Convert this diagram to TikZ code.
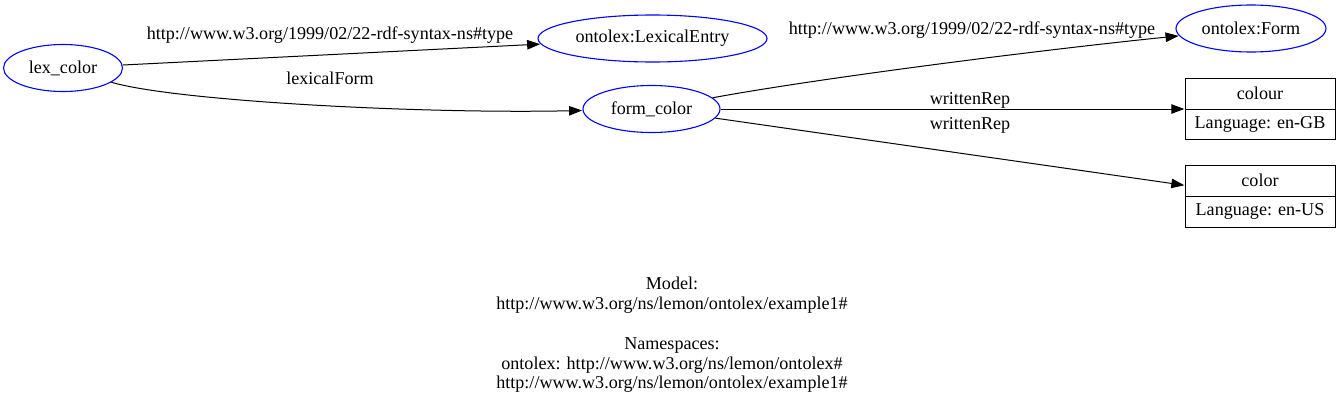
\documentclass[tikz,border=0pt]{standalone}
\usepackage{fontspec}
\setmainfont{Liberation Serif}
\usetikzlibrary{shapes.geometric,arrows.meta}
\tikzset{
  res/.style={ellipse, draw=blue, line width=1.1pt, inner sep=0pt, text=black},
  recpart/.style={rectangle, draw=black, line width=1pt, inner sep=0pt, minimum width=150pt},
  edge/.style={draw=black, line width=1pt, -{Triangle[length=13pt,width=9.5pt]}, shorten >=0.5pt},
  lbl/.style={inner sep=0pt, text=black},
}
\begin{document}
\begin{tikzpicture}[x=1pt,y=-1pt,font=\fontsize{18.1}{19.8}\selectfont]
\useasboundingbox (0,0) rectangle (1344,407);
% nodes
\node[res, minimum width=119pt, minimum height=47pt] (lex) at (63,68) {lex\_color};
\node[res, minimum width=229pt, minimum height=47pt] (le) at (652.5,38.5) {ontolex:LexicalEntry};
\node[res, minimum width=137pt, minimum height=47pt] (form) at (651.5,109) {form\_color};
\node[res, minimum width=150pt, minimum height=47pt] (fc) at (1251,28.5) {ontolex:Form};
% record: colour
\node[recpart, minimum height=31pt] (colourA) at (1260,93.5) {colour};
\node[recpart, minimum height=30pt] (colourB) at (1260,124) {Language: en-GB};
\node[inner sep=0pt, minimum width=150pt, minimum height=61pt] (colour) at (1260,109) {};
% record: color
\node[recpart, minimum height=31pt] (colorA) at (1260,180.5) {color};
\node[recpart, minimum height=31pt] (colorB) at (1260,211.5) {Language: en-US};
\node[inner sep=0pt, minimum width=150pt, minimum height=62pt] (color) at (1260,196) {};
% edges
\draw[edge] (lex) -- (le);
\node[lbl] (l1) at (330,35) {http://www.w3.org/1999/02/22-rdf-syntax-ns\#type};
\draw[edge] (lex) .. controls (175,101) and (420,114) .. (form);
\node[lbl] (l2) at (330,78) {lexicalForm};
\draw[edge] (form) .. controls (820,78) and (1040,50) .. (fc);
\node[lbl] (l3) at (972,30) {http://www.w3.org/1999/02/22-rdf-syntax-ns\#type};
\draw[edge] (form) -- (colour);
\node[lbl] (l4) at (970,100) {writtenRep};
\draw[edge] (form) -- (color);
\node[lbl] (l5) at (970,125) {writtenRep};
% caption
\node[lbl, align=center] (cap) at (672,335) {Model:\\http://www.w3.org/ns/lemon/ontolex/example1\#\\\mbox{}\\Namespaces:\\ontolex: http://www.w3.org/ns/lemon/ontolex\#\\http://www.w3.org/ns/lemon/ontolex/example1\#};
\end{tikzpicture}
\end{document}
